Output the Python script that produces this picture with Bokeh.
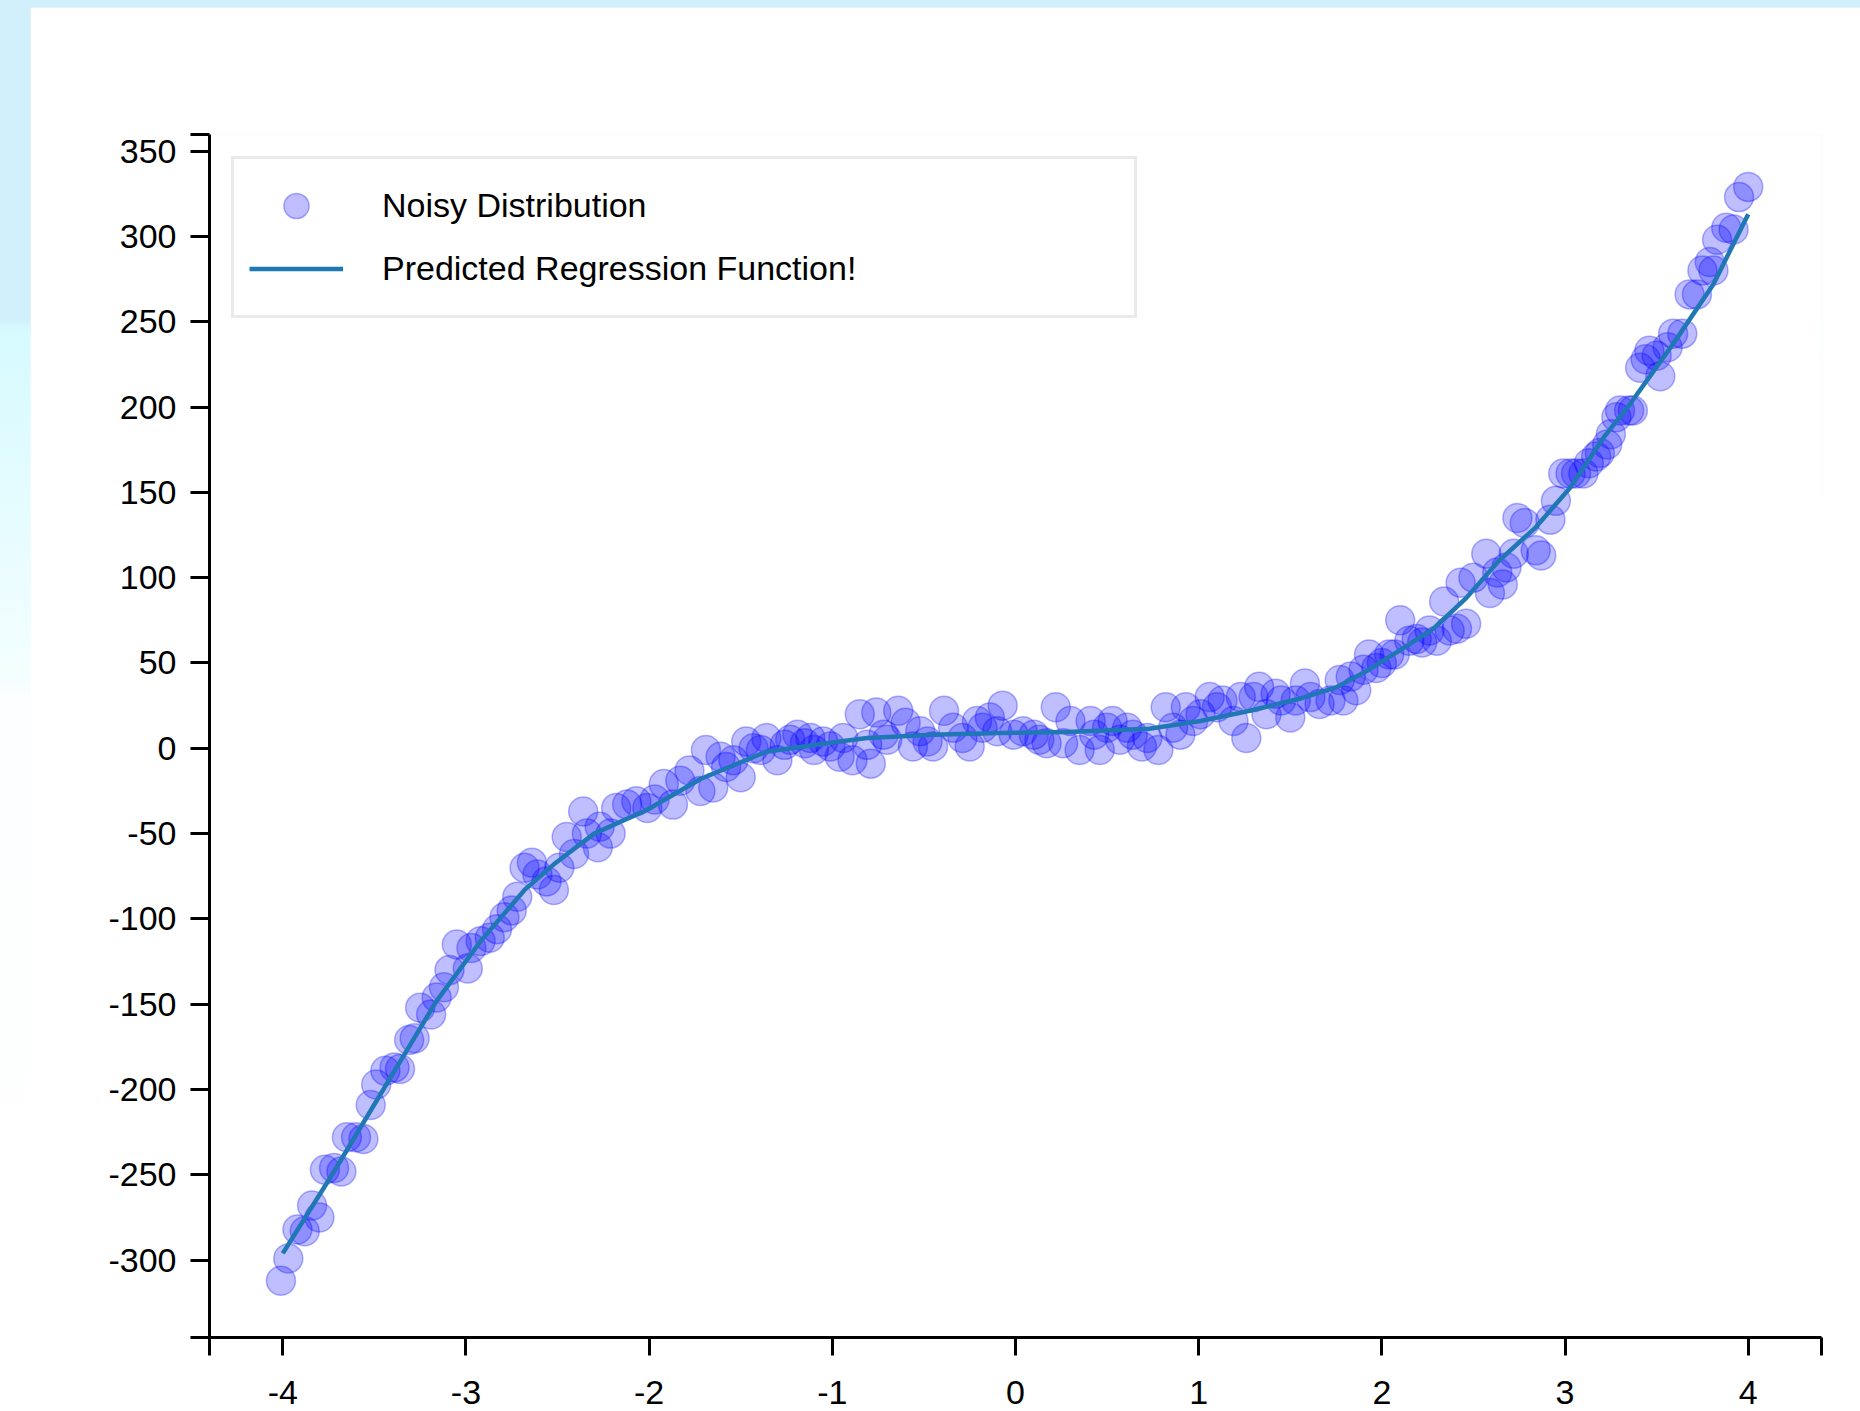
from bokeh.plotting import figure
from bokeh.layouts import column
from bokeh.models import FixedTicker, Range1d, Legend, LegendItem
from bokeh.embed import file_html
from bokeh.resources import INLINE

# ---- data ----
NOISY_X = [-4.01, -3.97, -3.92, -3.88, -3.84, -3.80, -3.77, -3.72, -3.68, -3.65,
           -3.60, -3.56, -3.52, -3.49, -3.44, -3.39, -3.36, -3.31, -3.28, -3.25,
           -3.19, -3.16, -3.12, -3.09, -3.05, -2.99, -2.97, -2.92, -2.87, -2.83,
           -2.79, -2.75, -2.72, -2.68, -2.64, -2.61, -2.56, -2.52, -2.49, -2.45,
           -2.41, -2.36, -2.34, -2.28, -2.27, -2.21, -2.18, -2.12, -2.07, -2.01,
           -1.97, -1.92, -1.87, -1.83, -1.78, -1.72, -1.69, -1.65, -1.61, -1.58,
           -1.54, -1.50, -1.47, -1.43, -1.39, -1.36, -1.30, -1.26, -1.23, -1.19,
           -1.15, -1.12, -1.10, -1.05, -1.01, -0.96, -0.94, -0.89, -0.85, -0.81,
           -0.79, -0.76, -0.72, -0.70, -0.64, -0.60, -0.56, -0.52, -0.48, -0.45,
           -0.39, -0.34, -0.29, -0.25, -0.21, -0.18, -0.14, -0.10, -0.07, -0.01,
           0.04, 0.10, 0.13, 0.17, 0.22, 0.26, 0.30, 0.35, 0.41, 0.43,
           0.46, 0.50, 0.53, 0.57, 0.61, 0.64, 0.69, 0.72, 0.78, 0.82,
           0.86, 0.90, 0.93, 0.97, 1.01, 1.06, 1.10, 1.13, 1.19, 1.23,
           1.26, 1.30, 1.33, 1.37, 1.42, 1.45, 1.50, 1.53, 1.58, 1.61,
           1.66, 1.72, 1.77, 1.79, 1.83, 1.86, 1.90, 1.93, 1.97, 2.00,
           2.04, 2.07, 2.10, 2.15, 2.19, 2.22, 2.26, 2.30, 2.34, 2.37,
           2.41, 2.43, 2.46, 2.50, 2.57, 2.59, 2.63, 2.66, 2.68, 2.72,
           2.74, 2.78, 2.84, 2.87, 2.92, 2.95, 2.99, 3.03, 3.06, 3.10,
           3.13, 3.17, 3.19, 3.23, 3.25, 3.28, 3.30, 3.35, 3.37, 3.41,
           3.44, 3.46, 3.50, 3.52, 3.56, 3.59, 3.64, 3.68, 3.72, 3.75,
           3.79, 3.81, 3.83, 3.88, 3.92, 3.95, 4.00]
NOISY_Y = [-312, -299, -282, -283, -268, -275, -247, -246, -248, -228,
           -228, -229, -209, -197, -189, -187, -188, -171, -170, -152,
           -156, -146, -140, -130, -115, -129, -117, -113, -111, -106,
           -99, -95, -87, -70, -67, -74, -78, -83, -70, -52,
           -62, -37, -50, -58, -46, -50, -35, -33, -31, -35,
           -30, -21, -33, -19, -13, -25, -1, -23, -5, -11,
           -7, -17, 4, 0, -1, 6, -7, 2, 5, 8,
           3, 6, -1, 4, 1, -5, 6, -7, 20, 2,
           -9, 21, 8, 5, 22, 15, 1, 10, 4, 1,
           22, 12, 6, 1, 16, 12, 18, 10, 25, 8,
           10, 8, 5, 3, 24, 3, 16, -1, 16, 8,
           -1, 12, 16, 5, 12, 8, 1, 6, -1, 24,
           12, 8, 24, 16, 20, 30, 24, 28, 16, 30,
           6, 30, 36, 20, 32, 28, 18, 28, 38, 30,
           26, 28, 40, 28, 42, 34, 46, 55, 47, 50,
           55, 55, 75, 63, 64, 62, 69, 63, 86, 69,
           70, 97, 73, 100, 114, 91, 103, 96, 106, 114,
           135, 132, 116, 113, 134, 145, 161, 161, 161, 161,
           167, 171, 173, 178, 184, 194, 198, 198, 198, 223,
           228, 233, 230, 218, 235, 243, 243, 266, 266, 280,
           285, 280, 298, 305, 304, 323, 329]

LINE_X = [-4.00, -3.72, -3.39, -3.16, -2.92, -2.68, -2.52, -2.30, -2.01, -1.72,
          -1.36, -0.99, -0.81, -0.45, -0.09, 0.28, 0.73, 1.01, 1.28, 1.55,
          1.75, 1.92, 2.10, 2.28, 2.46, 2.64, 2.84, 3.03, 3.21, 3.35,
          3.59, 3.81, 4.00]
LINE_Y = [-296, -248, -189, -148, -113, -83, -68, -50, -36, -18,
          -2, 3.5, 6, 8, 9, 9.5, 11.5, 16, 22, 29,
          35.7, 45.5, 57.5, 70, 88, 110, 129.5, 153, 182, 201,
          237, 272, 313]

X_TICKS = [-4, -3, -2, -1, 0, 1, 2, 3, 4]
Y_TICKS = [-300, -250, -200, -150, -100, -50, 0, 50, 100, 150, 200, 250, 300, 350]
X_DOMAIN = (-4.4, 4.4)
Y_DOMAIN = (-345.3, 359.7)

SERIES_NAMES = ["Noisy Distribution", "Predicted Regression Function!"]

FONT = "Liberation Sans"

p = figure(
    frame_width=1612, frame_height=1203,
    min_border_left=179, min_border_right=39,
    min_border_top=127, min_border_bottom=74,
    x_range=Range1d(*X_DOMAIN), y_range=Range1d(*Y_DOMAIN),
    output_backend="svg", toolbar_location=None,
    background_fill_color="white", border_fill_color="white",
    outline_line_color=None,
)
p.margin = (7, 0, 0, 30)
p.grid.visible = False

pts = p.scatter(NOISY_X, NOISY_Y, size=29, marker="circle",
                fill_color="blue", fill_alpha=0.25,
                line_color="blue", line_alpha=0.3, line_width=1.5)
ln = p.line(LINE_X, LINE_Y, line_color="#1f77b4", line_width=4.5)

# axes (d3 style, with outer ticks at the domain ends)
xe0, xe1 = X_DOMAIN[0] + 1e-4, X_DOMAIN[1] - 1e-4
ye0, ye1 = Y_DOMAIN[0] + 1e-2, Y_DOMAIN[1] - 1e-2
p.xaxis.ticker = FixedTicker(ticks=[xe0] + X_TICKS + [xe1])
p.yaxis.ticker = FixedTicker(ticks=[ye0] + Y_TICKS + [ye1])
xo = {t: str(t) for t in X_TICKS}
xo.update({xe0: "", xe1: ""})
yo = {t: str(t) for t in Y_TICKS}
yo.update({ye0: "", ye1: ""})
p.xaxis.major_label_overrides = xo
p.yaxis.major_label_overrides = yo

for ax in (p.xaxis, p.yaxis):
    ax.axis_line_width = 3
    ax.axis_line_color = "black"
    ax.major_tick_line_width = 3
    ax.major_tick_line_color = "black"
    ax.major_tick_in = 0
    ax.minor_tick_line_color = None
    ax.major_label_text_font = FONT
    ax.major_label_text_font_size = "34px"
    ax.major_label_text_color = "black"
p.xaxis.major_tick_out = 18
p.yaxis.major_tick_out = 19
p.xaxis.major_label_standoff = 25
p.yaxis.major_label_standoff = 14

legend = Legend(
    items=[LegendItem(label=SERIES_NAMES[0], renderers=[pts]),
           LegendItem(label=SERIES_NAMES[1], renderers=[ln])],
    location="top_left", margin=22, padding=15,
    glyph_width=94, glyph_height=63, spacing=0,
    label_standoff=39, label_width=737,
    label_text_font=FONT, label_text_font_size="34px", label_text_color="black",
    border_line_color="#d6d6d6", border_line_width=3,
    background_fill_color="white", background_fill_alpha=1.0,
)
p.add_layout(legend)

page = column(p, width=1860, height=1411,
              styles={"background": "linear-gradient(to bottom, #d2f0fb 0px, #d2f0fb 320px, #d6faff 330px, #f4feff 680px, #fdfeff 700px, #ffffff 1411px)"})

open("out.html", "w").write(file_html(page, INLINE))
